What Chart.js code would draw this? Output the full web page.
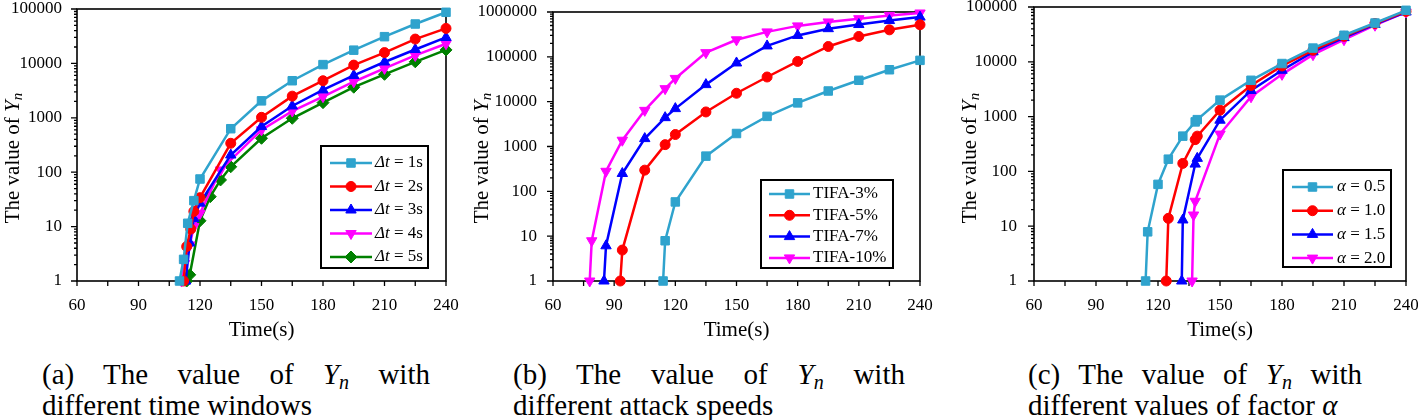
<!DOCTYPE html>
<html>
<head>
<meta charset="utf-8">
<script src="https://cdn.jsdelivr.net/npm/chart.js@4.4.0/dist/chart.umd.min.js"></script>
<style>
  body { margin: 0; background: #fff; width: 1418px; height: 420px; overflow: hidden; position: relative; font-family: "Liberation Serif", serif; }
  canvas { position: absolute; top: 0; }
  .cap { position: absolute; top: 359px; font-size: 29px; line-height: 31px; color: #000; }
  .cap .l1 { text-align: justify; text-align-last: justify; white-space: nowrap; }
  .cap sub { font-size: 20px; line-height: 0; vertical-align: -5px; }
</style>
</head>
<body>
<canvas id="chartA" width="470" height="345" style="left:0"></canvas>
<canvas id="chartB" width="470" height="345" style="left:470px"></canvas>
<canvas id="chartC" width="478" height="345" style="left:940px"></canvas>

<div class="cap" style="left:42px;width:388px">
  <div class="l1">(a) The value of <i>Y</i><sub><i>n</i></sub> with</div>
  <div>different time windows</div>
</div>
<div class="cap" style="left:513px;width:392px">
  <div class="l1">(b) The value of <i>Y</i><sub><i>n</i></sub> with</div>
  <div>different attack speeds</div>
</div>
<div class="cap" style="left:1028px;width:334px">
  <div class="l1">(c) The value of <i>Y</i><sub><i>n</i></sub> with</div>
  <div>different values of factor <i>α</i></div>
</div>

<script>
// ---- axis labels ----
const xTickValues = [60, 75, 90, 105, 120, 135, 150, 165, 180, 195, 210, 225, 240];
const xTickLabels = [60, 90, 120, 150, 180, 210, 240];
const yDecadesA = [1, 10, 100, 1000, 10000, 100000];
const yDecadesB = [1, 10, 100, 1000, 10000, 100000, 1000000];

// ---- (a) different time windows ----
const tA1 = [110, 112, 114, 117, 120, 135, 150, 165, 180, 195, 210, 225, 240];
const yA1 = [1, 2.5, 11.5, 30, 75, 630, 2050, 4800, 9500, 17500, 31000, 53000, 87000];
const tA2 = [112, 113.5, 115.5, 117, 120, 135, 150, 165, 180, 195, 210, 225, 240];
const yA2 = [1, 4.3, 9, 19, 34, 340, 1020, 2500, 4800, 9300, 15800, 28000, 44000];
const tA3 = [113, 115, 117, 120, 135, 150, 165, 180, 195, 210, 225, 240];
const yA3 = [1, 5, 14, 27, 207, 690, 1650, 3250, 6000, 10600, 18000, 30000];
const tA4 = [111, 112.5, 115, 117, 120, 130, 150, 165, 180, 195, 210, 225, 240];
const yA4 = [1, 2.1, 4.6, 10, 17.5, 110, 600, 1330, 2450, 4600, 8100, 14000, 23000];
const tA5 = [113.5, 115, 120, 125, 130, 135, 150, 165, 180, 195, 210, 225, 240];
const yA5 = [1, 1.3, 12.8, 35.5, 72, 126, 420, 980, 1900, 3650, 6300, 10700, 17700];

// ---- (b) different attack speeds ----
const tB1 = [114, 115, 120, 135, 150, 165, 180, 195, 210, 225, 240];
const yB1 = [1, 7.9, 58, 610, 1950, 4700, 9400, 17300, 30000, 51500, 83500];
const tB2 = [93, 94, 105, 115, 120, 135, 150, 165, 180, 195, 210, 225, 240];
const yB2 = [1, 4.9, 297, 1100, 1850, 5900, 15400, 35500, 79000, 170000, 285000, 400000, 520000];
const tB3 = [85, 86, 94, 105, 115, 120, 135, 150, 165, 180, 195, 210, 225, 240];
const yB3 = [1, 6.1, 250, 1500, 4400, 7000, 24000, 73000, 175000, 300000, 425000, 525000, 645000, 770000];
const tB4 = [78, 79, 86, 94, 105, 115, 120, 135, 150, 165, 180, 195, 210, 225, 240];
const yB4 = [1, 7.9, 280, 1380, 6400, 19500, 33000, 124000, 240000, 360000, 490000, 600000, 710000, 840000, 950000];

// ---- (c) different values of factor alpha ----
const tC1 = [114, 115, 120, 125, 132, 138, 139, 150, 165, 180, 195, 210, 225, 240];
const yC1 = [1, 7.9, 58, 167, 440, 800, 880, 2000, 4600, 9300, 17800, 30500, 51000, 87000];
const tC2 = [124, 125, 132, 138, 139, 150, 165, 180, 195, 210, 225, 240];
const yC2 = [1, 13.9, 140, 380, 440, 1310, 3700, 8400, 16300, 29200, 50000, 83000];
const tC3 = [131.5, 132, 138, 139, 150, 165, 180, 195, 210, 225, 240];
const yC3 = [1, 13, 136, 173, 860, 3000, 7000, 15200, 27600, 48000, 81000];
const tC4 = [136.5, 137.2, 138, 150, 165, 180, 195, 210, 225, 240];
const yC4 = [1, 16, 28.5, 480, 2300, 5900, 13500, 25300, 46500, 81000];

const labelsA = [[['Δt', true], [' = 1s', false]], [['Δt', true], [' = 2s', false]], [['Δt', true], [' = 3s', false]], [['Δt', true], [' = 4s', false]], [['Δt', true], [' = 5s', false]]];
const labelsB = [[['TIFA-3%', false]], [['TIFA-5%', false]], [['TIFA-7%', false]], [['TIFA-10%', false]]];
const labelsC = [[['α', true], [' = 0.5', false]], [['α', true], [' = 1.0', false]], [['α', true], [' = 1.5', false]], [['α', true], [' = 2.0', false]]];

const CYAN = '#2FA3CD', RED = '#FF0000', BLUE = '#0000FF', MAGENTA = '#FF00FF', GREEN = '#008000';
const FONT = '"Liberation Serif", "Times New Roman", serif';

// marker styles, in legend order
const styles = [
  { color: CYAN, pointStyle: 'rect', radius: 6, rotation: 0 },
  { color: RED, pointStyle: 'circle', radius: 5, rotation: 0 },
  { color: BLUE, pointStyle: 'triangle', radius: 6, rotation: 0 },
  { color: MAGENTA, pointStyle: 'triangle', radius: 6, rotation: 180 },
  { color: GREEN, pointStyle: 'rectRot', radius: 6, rotation: 0 }
];
const stylesB = [styles[0], styles[1], styles[2], styles[3]];

function series(t, y, st) {
  return {
    data: t.map((x, i) => ({ x: x, y: y[i] })),
    borderColor: st.color,
    backgroundColor: st.color,
    borderWidth: 2.5,
    pointStyle: st.pointStyle,
    pointRadius: st.radius,
    pointRotation: st.rotation,
    pointBorderWidth: 1,
    tension: 0,
    clip: false
  };
}

function logTicks(max) {
  const out = [];
  for (let d = 1; d < max; d *= 10) for (let m = 1; m < 10; m++) out.push(d * m);
  out.push(max);
  return out;
}

function makeChart(id, datasets, legendRows, legendStyles, p) {
  // frame + outward ticks
  const frame = {
    id: 'frame',
    beforeDatasetsDraw(chart) {
      const { ctx, chartArea: a } = chart;
      ctx.save();
      ctx.strokeStyle = '#000';
      ctx.lineWidth = 1.6;
      ctx.strokeRect(a.left, a.top, a.right - a.left, a.bottom - a.top);
      ctx.lineWidth = 1.3;
      ctx.beginPath();
      chart.scales.x.ticks.forEach(t => {
        const px = chart.scales.x.getPixelForValue(t.value);
        ctx.moveTo(px, a.bottom); ctx.lineTo(px, a.bottom + 5);
      });
      chart.scales.y.ticks.forEach(t => {
        const py = chart.scales.y.getPixelForValue(t.value);
        const major = p.yLabels.includes(t.value);
        ctx.moveTo(a.left, py); ctx.lineTo(a.left - (major ? 6 : 3), py);
      });
      ctx.stroke();
      ctx.restore();
    }
  };

  // boxed legend inside plot
  const boxLegend = {
    id: 'boxLegend',
    afterDatasetsDraw(chart) {
      const { ctx, chartArea: a } = chart;
      const L = p.legend;
      const bx = a.right - L.right - L.w, by = a.bottom - L.bottom - L.h;
      ctx.save();
      ctx.fillStyle = '#fff';
      ctx.fillRect(bx, by, L.w, L.h);
      ctx.strokeStyle = '#000';
      ctx.lineWidth = 2;
      ctx.strokeRect(bx, by, L.w, L.h);
      legendRows.forEach((parts, i) => {
        const st = legendStyles[i];
        const y = by + L.row0 + i * L.gap;
        ctx.strokeStyle = st.color;
        ctx.fillStyle = st.color;
        ctx.lineWidth = 2.5;
        ctx.beginPath();
        ctx.moveTo(bx + L.lineOff, y); ctx.lineTo(bx + L.lineOff + L.lineLen, y);
        ctx.stroke();
        ctx.lineWidth = 1;
        Chart.helpers.drawPoint(ctx, { pointStyle: st.pointStyle, rotation: st.rotation, radius: st.radius, borderWidth: 1 },
          bx + L.lineOff + L.lineLen / 2, y);
        ctx.fillStyle = '#000';
        ctx.textBaseline = 'middle';
        let x = bx + L.textOff;
        parts.forEach(([txt, it]) => {
          ctx.font = (it ? 'italic ' : '') + '17px ' + FONT;
          ctx.fillText(txt, x, y);
          x += ctx.measureText(txt).width;
        });
      });
      ctx.restore();
    }
  };

  // rotated y title with subscript
  const yTitle = {
    id: 'yTitle',
    afterDraw(chart) {
      const ctx = chart.ctx;
      const parts = [['The value of ', '21px ' + FONT, 0], ['Y', 'italic 21px ' + FONT, 0], ['n', 'italic 15px ' + FONT, 5]];
      ctx.save();
      ctx.translate(p.yTitleX, 158);
      ctx.rotate(-Math.PI / 2);
      let total = 0;
      parts.forEach(([t, f]) => { ctx.font = f; total += ctx.measureText(t).width; });
      let x = -total / 2;
      ctx.fillStyle = '#000';
      ctx.textBaseline = 'middle';
      parts.forEach(([t, f, dy]) => {
        ctx.font = f;
        ctx.fillText(t, x, dy);
        x += ctx.measureText(t).width;
      });
      ctx.restore();
    }
  };

  return new Chart(document.getElementById(id), {
    type: 'line',
    data: { datasets: datasets },
    options: {
      responsive: false,
      animation: false,
      layout: { padding: { top: p.top, right: p.right, left: 0, bottom: 0 } },
      plugins: { legend: { display: false }, tooltip: { enabled: false } },
      scales: {
        x: {
          type: 'linear', min: 60, max: 240,
          grid: { display: false }, border: { display: false },
          afterBuildTicks: s => { s.ticks = xTickValues.map(v => ({ value: v })); },
          ticks: {
            autoSkip: false, maxRotation: 0, padding: 6, color: '#000',
            font: { family: FONT, size: 17 },
            callback: v => xTickLabels.includes(v) ? String(v) : ''
          },
          title: { display: true, text: 'Time(s)', color: '#000', font: { family: FONT, size: 21 }, padding: { top: 4, bottom: 2 } },
          afterFit: s => { s.height = 345 - 281; s.paddingLeft = 0; s.paddingRight = 0; }
        },
        y: {
          type: 'logarithmic', min: 1, max: p.yMax,
          grid: { display: false }, border: { display: false },
          afterBuildTicks: s => { s.ticks = logTicks(p.yMax).map(v => ({ value: v })); },
          ticks: {
            autoSkip: false, padding: p.yPad, color: '#000',
            font: { family: FONT, size: 17, lineHeight: 1 },
            callback: v => p.yLabels.includes(v) ? String(v) : ''
          },
          afterFit: s => { s.width = p.yWidth; s.paddingTop = 0; s.paddingBottom = 0; }
        }
      }
    },
    plugins: [frame, boxLegend, yTitle]
  });
}

makeChart('chartA', [
  series(tA1, yA1, styles[0]), series(tA2, yA2, styles[1]), series(tA3, yA3, styles[2]),
  series(tA4, yA4, styles[3]), series(tA5, yA5, styles[4])
], labelsA, styles, {
  yMax: 100000, yLabels: yDecadesA, yWidth: 77, yPad: 7, top: 9, right: 24, yTitleX: 13,
  legend: { right: 18, bottom: 13, w: 107, h: 122, row0: 17, gap: 23.5, lineOff: 9, lineLen: 42, textOff: 54 }
});

makeChart('chartB', [
  series(tB1, yB1, stylesB[0]), series(tB2, yB2, stylesB[1]), series(tB3, yB3, stylesB[2]), series(tB4, yB4, stylesB[3])
], labelsB, stylesB, {
  yMax: 1000000, yLabels: yDecadesB, yWidth: 83, yPad: 8, top: 12, right: 20, yTitleX: 12,
  legend: { right: 27, bottom: 13, w: 132, h: 88, row0: 14, gap: 21.3, lineOff: 8, lineLen: 41, textOff: 52 }
});

makeChart('chartC', [
  series(tC1, yC1, stylesB[0]), series(tC2, yC2, stylesB[1]), series(tC3, yC3, stylesB[2]), series(tC4, yC4, stylesB[3])
], labelsC, stylesB, {
  yMax: 100000, yLabels: yDecadesA, yWidth: 94, yPad: 9, top: 7, right: 12, yTitleX: 30,
  legend: { right: 15, bottom: 14, w: 108, h: 97, row0: 17, gap: 23.7, lineOff: 9, lineLen: 41, textOff: 54 }
});
</script>
</body>
</html>
